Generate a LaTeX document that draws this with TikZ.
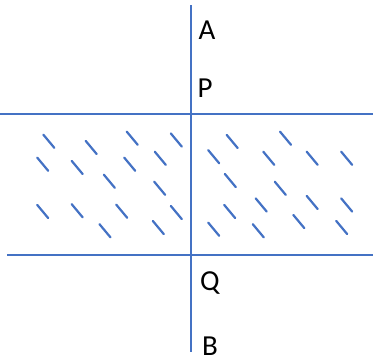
\documentclass[tikz,border=0pt]{standalone}
\usepackage{fontspec}
\setmainfont{Carlito}
\usepackage{tikz}
\usetikzlibrary{calc}
\definecolor{lineblue}{RGB}{68,114,196}

\begin{document}
\begin{tikzpicture}[
            x=1pt,
            y=-1pt,
            boundary/.style={
                draw=lineblue,
                line width=2pt
            },
            hatch/.style={
                draw=lineblue,
                line width=2.2pt,
                line cap=round
            },
            ptlabel/.style={
                anchor=base,
                inner sep=0pt,
                font=\fontsize{29}{34}\selectfont
            }
            ]

            \useasboundingbox (0,0) rectangle (373,362);

            % slab between the two boundaries
            \coordinate (topL) at (0,114);
            \coordinate (topR) at (373,114);
            \coordinate (botL) at (7,255);
            \coordinate (botR) at (373,255);

            \coordinate (axisTop) at (191,5);
            \coordinate (axisBot) at (191,352);

            \draw[boundary] (topL) -- (topR);
            \draw[boundary] (botL) -- (botR);
            \draw[boundary] (axisTop) -- (axisBot);

            % hatching inside the slab
            \foreach \cx/\cy in {
                48.8/141.2, 91.2/147.5, 132.2/138.2, 176.3/140,
                42.7/164.2, 77.2/167.5, 129.7/164.2, 160.3/158.3,
                109.3/181.2, 159.7/188.3,
                42.7/211.5, 77.2/210.8, 121.7/211.2, 176.3/212.5,
                105/230.8, 158.3/227.5,
                232.2/141.5, 285.5/138.2,
                213.7/156.7, 268.8/158.3, 312.2/158.3, 346.7/158.3,
                230.3/180.5, 280.3/188.3,
                261.2/205, 312.2/202.5, 346.7/205,
                229.7/211.5, 298.8/221.5,
                213.7/229.2, 258.3/230.8, 341.7/227.5}
            {
                \draw[hatch] (\cx-5.5,\cy-6.6) -- (\cx+5.5,\cy+6.6);
            }

            \node[ptlabel] (A) at (207,39) {A};
            \node[ptlabel] (P) at (205,97) {P};
            \node[ptlabel] (Q) at (210,290) {Q};
            \node[ptlabel] (B) at (210,355) {B};

        \end{tikzpicture}
\end{document}
